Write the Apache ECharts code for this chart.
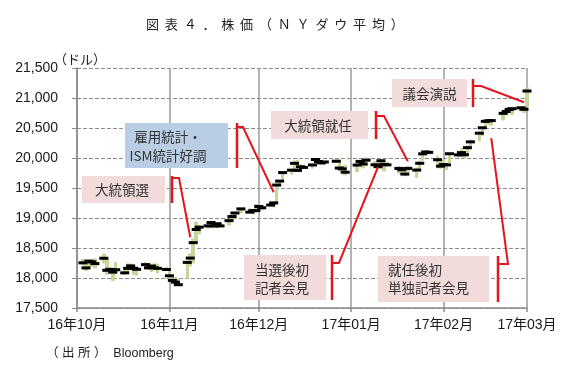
<!DOCTYPE html>
<html>
<head>
<meta charset="utf-8">
<script src="https://cdn.jsdelivr.net/npm/echarts@6.0.0/dist/echarts.min.js"></script>
<style>
html,body{margin:0;padding:0;background:#ffffff;}
#chart{width:570px;height:369px;}
</style>
</head>
<body>
<div id="chart"></div>
<script>
// ---------------- data ----------------
const tradeDates = [
 '2016-10-03','2016-10-04','2016-10-05','2016-10-06','2016-10-07','2016-10-10','2016-10-11','2016-10-12','2016-10-13','2016-10-14',
 '2016-10-17','2016-10-18','2016-10-19','2016-10-20','2016-10-21','2016-10-24','2016-10-25','2016-10-26','2016-10-27','2016-10-28','2016-10-31',
 '2016-11-01','2016-11-02','2016-11-03','2016-11-04','2016-11-07','2016-11-08','2016-11-09','2016-11-10','2016-11-11','2016-11-14',
 '2016-11-15','2016-11-16','2016-11-17','2016-11-18','2016-11-21','2016-11-22','2016-11-23','2016-11-25','2016-11-28','2016-11-29','2016-11-30',
 '2016-12-01','2016-12-02','2016-12-05','2016-12-06','2016-12-07','2016-12-08','2016-12-09','2016-12-12','2016-12-13','2016-12-14',
 '2016-12-15','2016-12-16','2016-12-19','2016-12-20','2016-12-21','2016-12-22','2016-12-23','2016-12-27','2016-12-28','2016-12-29','2016-12-30',
 '2017-01-03','2017-01-04','2017-01-05','2017-01-06','2017-01-09','2017-01-10','2017-01-11','2017-01-12','2017-01-13','2017-01-17',
 '2017-01-18','2017-01-19','2017-01-20','2017-01-23','2017-01-24','2017-01-25','2017-01-26','2017-01-27','2017-01-30','2017-01-31',
 '2017-02-01','2017-02-02','2017-02-03','2017-02-06','2017-02-07','2017-02-08','2017-02-09','2017-02-10','2017-02-13','2017-02-14',
 '2017-02-15','2017-02-16','2017-02-17','2017-02-21','2017-02-22','2017-02-23','2017-02-24','2017-02-27','2017-02-28',
 '2017-03-01'
];
const closes = [
 18253,18168,18281,18268,18240,18329,18128,18144,18098,18138,18086,18161,18202,18162,18145,18223,18169,18199,18170,18161,18142,
 18037,17960,17931,17888,18260,18332,18589,18808,18848,18869,18924,18868,18904,18868,18956,19024,19083,19152,19098,19122,19124,
 19192,19171,19216,19252,19549,19615,19757,19797,19911,19793,19853,19843,19884,19975,19942,19919,19934,19946,19833,19819,19763,
 19882,19943,19900,19964,19887,19856,19954,19891,19886,19826,19804,19732,19827,19799,19912,20069,20100,20094,19971,19864,
 19891,19885,20071,20052,20090,20054,20172,20269,20413,20504,20611,20620,20624,20744,20775,20810,20822,20837,20812,
 21116
];
const highs = [
 18309,18301,18308,18288,18319,18399,18332,18167,18130,18262,18153,18236,18238,18217,18145,18258,18236,18232,18237,18233,18175,
 18163,18044,18012,17986,18263,18400,18650,18935,18874,18935,18925,18903,18916,18921,18957,19043,19083,19153,19152,19136,19225,
 19215,19199,19249,19253,19559,19625,19757,19813,19953,19966,19889,19881,19897,19987,19974,19934,19935,19981,19964,19853,19878,
 19938,19956,19950,19999,19943,19895,19974,19929,19929,19856,19832,19838,19855,19833,19949,20082,20125,20104,20028,19931,
 19960,19896,20081,20081,20155,20068,20206,20298,20441,20504,20620,20639,20625,20758,20788,20840,20822,20851,20835,
 21169
];
const lows = [
 18217,18123,18179,18198,18169,18250,18064,18082,17959,18105,18054,18097,18148,18060,18047,18154,18143,18108,18146,18083,18124,
 17931,17955,17912,17884,17994,18200,18252,18596,18736,18830,18849,18835,18846,18856,18881,18958,18994,19086,19087,19070,19119,
 19129,19136,19188,19183,19235,19547,19639,19731,19815,19781,19794,19829,19831,19900,19939,19887,19899,19926,19833,19775,19718,
 19775,19887,19835,19872,19882,19831,19821,19784,19871,19748,19741,19703,19774,19677,19805,19961,20075,20064,19835,19827,
 19851,19804,19917,20014,20052,19999,20066,20184,20283,20376,20504,20567,20547,20633,20718,20757,20727,20788,20757,
 20857
];
const monthTicks = ['2016-10-01','2016-11-01','2016-12-01','2017-01-01','2017-02-01','2017-03-01'];
const firstDay = '2016-10-01';
const lastDay = '2017-03-01';
const yMin = 17500, yMax = 21500, yStep = 500;

const titleText = '図  表  ４  ．  株  価  （  Ｎ  Ｙ  ダ  ウ  平  均  ）';
const yUnitText = '（ドル）';
const sourceText = '（ 出 所 ）  Bloomberg';

const calloutTexts = ['大統領選', '雇用統計・\nISM統計好調', '当選後初\n記者会見', '大統領就任', '就任後初\n単独記者会見', '議会演説'];
const calloutTargets = [
 ['2016-11-08', 18680],
 ['2016-12-06', 19430],
 ['2017-01-10', 19850],
 ['2017-01-20', 19945],
 ['2017-02-17', 20330],
 ['2017-02-28', 20930]
];

// ---------------- layout / style ----------------
const PINK = '#f1dcdb', BLUE = '#b9cde4', RED = '#e3161e';
const calloutLayout = [
 {box:[82,176,83,27],  fill:PINK, tx:122, ty:190, align:'center', lh:19, barX:172, elbowX:179, elbowY:178},
 {box:[125,123,103,45],fill:BLUE, tx:168, ty:146.5, align:'center', lh:19, barX:237, elbowX:243, elbowY:127},
 {box:[244,255,82,45], fill:PINK, tx:282, ty:279, align:'center', lh:18, barX:332, elbowX:339, elbowY:263},
 {box:[271,111,97,28], fill:PINK, tx:318, ty:125.5, align:'center', lh:19, barX:376, elbowX:384, elbowY:116},
 {box:[378,256,111,46],fill:PINK, tx:388, ty:279, align:'left', lh:18, barX:498, elbowX:508, elbowY:264},
 {box:[392,79,75,28],  fill:PINK, tx:429.5, ty:93.5, align:'center', lh:19, barX:473, elbowX:481, elbowY:86}
];

// ---------------- build ----------------
const cats = [];
(function(){
  const end = Date.parse(lastDay + 'T00:00:00Z');
  for (let t = Date.parse(firstDay + 'T00:00:00Z'); t <= end; t += 86400000) {
    cats.push(new Date(t).toISOString().slice(0, 10));
  }
})();
const catIndex = {};
cats.forEach((d, i) => { catIndex[d] = i; });

const hlData = cats.map(() => ['-', '-', '-', '-']);
const closeData = cats.map(() => '-');
tradeDates.forEach((d, i) => {
  const k = catIndex[d];
  hlData[k] = [lows[i], highs[i], lows[i], highs[i]];
  closeData[k] = closes[i];
});

const isMonthStart = (idx, val) => monthTicks.indexOf(val) >= 0;
const LATIN = '"Liberation Sans", Arial, "Noto Sans CJK JP", sans-serif';
const CJK = '"Noto Sans CJK JP", sans-serif';
const AXIS_GRAY = '#8a8a8a';

const chart = echarts.init(document.getElementById('chart'), null, {renderer: 'canvas'});
chart.setOption({
  animation: false,
  backgroundColor: '#ffffff',
  grid: {left: 77, right: 43, top: 68, bottom: 61, outerBoundsMode: 'none', containLabel: false},
  xAxis: {
    type: 'category',
    data: cats,
    boundaryGap: false,
    axisLine: {show: true, lineStyle: {color: AXIS_GRAY, width: 1.5}},
    axisTick: {show: true, length: 4, interval: isMonthStart, lineStyle: {color: AXIS_GRAY, width: 1.5}},
    axisLabel: {
      show: true, interval: isMonthStart, margin: 10, fontSize: 14, color: '#1a1a1a', fontFamily: LATIN,
      formatter: v => v.slice(2, 4) + '年' + v.slice(5, 7) + '月'
    },
    splitLine: {show: true, interval: isMonthStart, lineStyle: {color: '#9a9a9a', width: 1.5, type: 'solid'}}
  },
  yAxis: {
    type: 'value',
    min: yMin, max: yMax, interval: yStep,
    axisLine: {show: true, lineStyle: {color: AXIS_GRAY, width: 1.5}},
    axisTick: {show: true, length: 5, lineStyle: {color: AXIS_GRAY, width: 1}},
    axisLabel: {
      margin: 19, fontSize: 14, color: '#1a1a1a', fontFamily: LATIN,
      formatter: v => Number(v).toLocaleString('en-US')
    },
    splitLine: {show: true, lineStyle: {color: '#8c8c8c', width: 1, type: [4, 2]}}
  },
  series: [
    {
      type: 'candlestick',
      data: hlData,
      barWidth: 3,
      silent: true,
      z: 2,
      itemStyle: {color: '#c4d79b', color0: '#c4d79b', borderColor: '#c4d79b', borderColor0: '#c4d79b', borderWidth: 1}
    },
    {
      type: 'scatter',
      data: closeData,
      symbol: 'rect',
      symbolSize: [9, 3],
      silent: true,
      z: 3,
      itemStyle: {color: '#000000', opacity: 1}
    }
  ]
});

// ---------------- annotations ----------------
const g = [];
g.push({type: 'text', z: 20, style: {text: titleText, x: 146, y: 24, textAlign: 'left', textVerticalAlign: 'middle',
  fontSize: 13, fontFamily: CJK, fill: '#222222'}});
g.push({type: 'text', z: 20, style: {text: yUnitText, x: 54, y: 59, textAlign: 'left', textVerticalAlign: 'middle',
  fontSize: 13, fontFamily: CJK, fill: '#222222'}});
g.push({type: 'text', z: 20, style: {text: sourceText, x: 46, y: 354, textAlign: 'left', textVerticalAlign: 'middle',
  fontSize: 12.5, fontFamily: LATIN, fill: '#222222'}});

calloutLayout.forEach((L, i) => {
  const [bx, by, bw, bh] = L.box;
  const p = chart.convertToPixel({gridIndex: 0}, calloutTargets[i]);
  g.push({type: 'rect', z: 10, shape: {x: bx, y: by, width: bw, height: bh}, style: {fill: L.fill}});
  g.push({type: 'text', z: 11, style: {text: calloutTexts[i], x: L.tx, y: L.ty, textAlign: L.align, textVerticalAlign: 'middle',
    fontSize: 13.5, fontFamily: CJK, fill: '#333333', lineHeight: L.lh}});
  g.push({type: 'line', z: 12, shape: {x1: L.barX, y1: by, x2: L.barX, y2: by + bh}, style: {stroke: RED, lineWidth: 2.5}});
  g.push({type: 'polyline', z: 12, shape: {points: [[L.barX, L.elbowY], [L.elbowX, L.elbowY], [p[0], p[1]]]},
    style: {stroke: RED, lineWidth: 2, fill: null}});
});
chart.setOption({graphic: g});
</script>
</body>
</html>
